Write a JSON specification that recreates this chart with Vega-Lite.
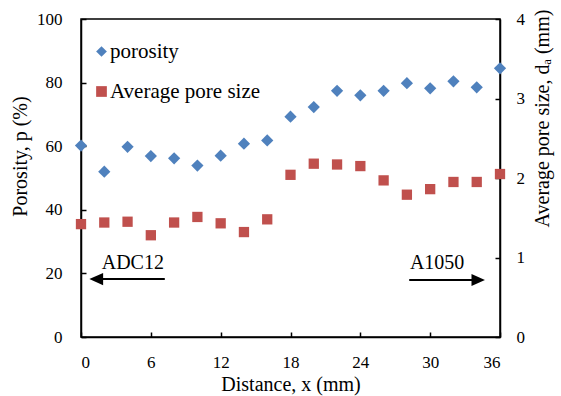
{
  "$schema": "https://vega.github.io/schema/vega-lite/v6.json",
  "width": 419,
  "height": 318,
  "autosize": {"type": "none"},
  "padding": {"left": 81, "top": 19, "right": 61, "bottom": 59},
  "background": "white",
  "config": {
    "view": {"stroke": "black", "strokeWidth": 1.5},
    "font": "Times New Roman",
    "axis": {
      "grid": false,
      "domainColor": "black",
      "domainWidth": 1.5,
      "tickColor": "black",
      "tickWidth": 1.5,
      "tickSize": -5,
      "labelColor": "black",
      "labelFont": "Times New Roman",
      "labelFontSize": 17,
      "titleColor": "black",
      "titleFont": "Times New Roman",
      "titleFontSize": 20,
      "titleFontWeight": "normal"
    },
    "legend": {
      "labelFont": "Times New Roman",
      "labelFontSize": 21,
      "labelFontWeight": "normal",
      "labelColor": "black"
    }
  },
  "data": {
    "values": [
      {"x": 0, "series": "porosity", "value": 60.2},
      {"x": 2, "series": "porosity", "value": 52.0},
      {"x": 4, "series": "porosity", "value": 59.8},
      {"x": 6, "series": "porosity", "value": 56.9},
      {"x": 8, "series": "porosity", "value": 56.2},
      {"x": 10, "series": "porosity", "value": 53.9},
      {"x": 12, "series": "porosity", "value": 57.0},
      {"x": 14, "series": "porosity", "value": 60.8},
      {"x": 16, "series": "porosity", "value": 61.8},
      {"x": 18, "series": "porosity", "value": 69.3},
      {"x": 20, "series": "porosity", "value": 72.3},
      {"x": 22, "series": "porosity", "value": 77.4},
      {"x": 24, "series": "porosity", "value": 76.0},
      {"x": 26, "series": "porosity", "value": 77.4},
      {"x": 28, "series": "porosity", "value": 79.8},
      {"x": 30, "series": "porosity", "value": 78.2},
      {"x": 32, "series": "porosity", "value": 80.4},
      {"x": 34, "series": "porosity", "value": 78.5},
      {"x": 36, "series": "porosity", "value": 84.5},
      {"x": 0, "series": "Average pore size", "value": 1.42},
      {"x": 2, "series": "Average pore size", "value": 1.44},
      {"x": 4, "series": "Average pore size", "value": 1.45},
      {"x": 6, "series": "Average pore size", "value": 1.28},
      {"x": 8, "series": "Average pore size", "value": 1.44},
      {"x": 10, "series": "Average pore size", "value": 1.51},
      {"x": 12, "series": "Average pore size", "value": 1.43},
      {"x": 14, "series": "Average pore size", "value": 1.32},
      {"x": 16, "series": "Average pore size", "value": 1.48},
      {"x": 18, "series": "Average pore size", "value": 2.04},
      {"x": 20, "series": "Average pore size", "value": 2.18},
      {"x": 22, "series": "Average pore size", "value": 2.17},
      {"x": 24, "series": "Average pore size", "value": 2.15},
      {"x": 26, "series": "Average pore size", "value": 1.97},
      {"x": 28, "series": "Average pore size", "value": 1.79},
      {"x": 30, "series": "Average pore size", "value": 1.86},
      {"x": 32, "series": "Average pore size", "value": 1.95},
      {"x": 34, "series": "Average pore size", "value": 1.95},
      {"x": 36, "series": "Average pore size", "value": 2.05}
    ]
  },
  "layer": [
    {
      "layer": [
        {
          "transform": [{"filter": "datum.series === 'porosity'"}],
          "mark": {"type": "point", "filled": true, "opacity": 1, "size": 150},
          "encoding": {
            "x": {
              "field": "x", "type": "quantitative",
              "scale": {"domain": [0, 36], "nice": false},
              "axis": {"values": [0, 6, 12, 18, 24, 30, 36], "title": "Distance, x (mm)", "titleFontSize": 20, "labelPadding": 22, "titlePadding": 4}
            },
            "y": {
              "field": "value", "type": "quantitative",
              "scale": {"domain": [0, 100], "nice": false},
              "axis": {"orient": "left", "values": [0, 20, 40, 60, 80, 100], "title": "Porosity, p (%)", "labelPadding": 24, "titleAngle": 270, "titleBaseline": "middle", "titleX": -61, "titleY": 137}
            },
            "color": {
              "field": "series", "type": "nominal",
              "scale": {"domain": ["porosity", "Average pore size"], "range": ["#4F81BD", "#C0504D"]},
              "legend": {"title": null, "orient": "none", "legendX": 10, "legendY": 22, "padding": 0, "symbolSize": 115, "symbolOpacity": 1, "labelOffset": -2, "rowPadding": 18}
            },
            "shape": {
              "field": "series", "type": "nominal",
              "scale": {"domain": ["porosity", "Average pore size"], "range": ["diamond", "square"]},
              "legend": {"title": null, "orient": "none", "legendX": 10, "legendY": 22, "padding": 0, "symbolSize": 115, "symbolOpacity": 1, "labelOffset": -2, "rowPadding": 18}
            }
          }
        },
        {
          "data": {"values": [
            {"x1": 1.0, "x2": 7.2, "y": 18.2},
            {"x1": 28.2, "x2": 33.6, "y": 17.9}
          ]},
          "mark": {"type": "rule", "color": "black", "strokeWidth": 2},
          "encoding": {
            "x": {"field": "x1", "type": "quantitative"},
            "x2": {"field": "x2"},
            "y": {"field": "y", "type": "quantitative"}
          }
        },
        {
          "data": {"values": [{"x": 1.31, "y": 18.2}]},
          "mark": {"type": "point", "filled": true, "opacity": 1, "color": "black", "size": 190, "shape": "M1,-0.9L-1,0L1,0.9Z"},
          "encoding": {
            "x": {"field": "x", "type": "quantitative"},
            "y": {"field": "y", "type": "quantitative"}
          }
        },
        {
          "data": {"values": [{"x": 34.13, "y": 17.9}]},
          "mark": {"type": "point", "filled": true, "opacity": 1, "color": "black", "size": 180, "shape": "M-1,-0.9L1,0L-1,0.9Z"},
          "encoding": {
            "x": {"field": "x", "type": "quantitative"},
            "y": {"field": "y", "type": "quantitative"}
          }
        },
        {
          "data": {"values": [
            {"x": 1.78, "y": 21.4, "label": "ADC12"},
            {"x": 28.26, "y": 21.4, "label": "A1050"}
          ]},
          "mark": {"type": "text", "align": "left", "baseline": "alphabetic", "font": "Times New Roman", "fontSize": 20, "color": "black"},
          "encoding": {
            "x": {"field": "x", "type": "quantitative"},
            "y": {"field": "y", "type": "quantitative"},
            "text": {"field": "label"}
          }
        }
      ]
    },
    {
      "transform": [{"filter": "datum.series === 'Average pore size'"}],
      "mark": {"type": "point", "filled": true, "opacity": 1, "size": 106},
      "encoding": {
        "x": {"field": "x", "type": "quantitative"},
        "y": {
          "field": "value", "type": "quantitative",
          "scale": {"domain": [0, 4], "nice": false},
          "axis": {"orient": "right", "values": [0, 1, 2, 3, 4], "title": "Average pore size, dₐ (mm)", "labelPadding": 21, "titleAngle": 270, "titleBaseline": "middle", "titleX": 42, "titleY": 99}
        },
        "color": {"field": "series", "type": "nominal"},
        "shape": {"field": "series", "type": "nominal"}
      }
    }
  ],
  "resolve": {"scale": {"y": "independent"}}
}
